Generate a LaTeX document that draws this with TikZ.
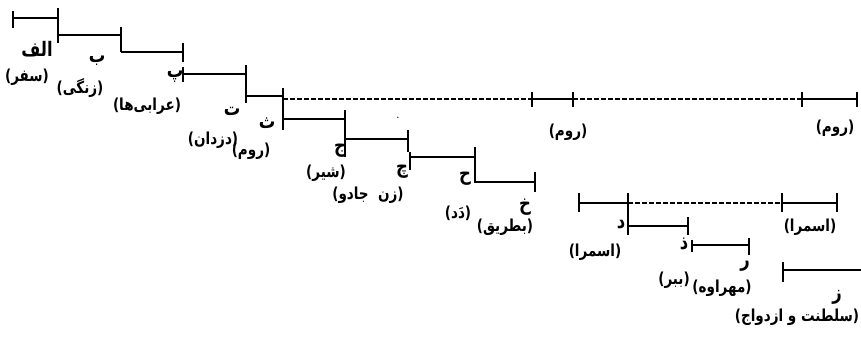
\documentclass[tikz,border=0pt]{standalone}
\usepackage{fontspec}
\TeXXeTstate=1
\newfontfamily\fa[Script=Arabic,FakeStretch=0.82]{DejaVu Sans}
\newcommand{\rtl}[1]{{\fa\bfseries\beginR #1\endR}}
\begin{document}
\begin{tikzpicture}[x=1pt,y=-1pt,
  seg/.style={line width=1.6pt},
  tk/.style={line width=1.6pt},
  dsh/.style={line width=1.3pt,dash pattern=on 4.5pt off 2.5pt},
  lbl/.style={inner sep=0pt,font=\fontsize{16.5}{18}\selectfont},
  ltr/.style={inner sep=0pt,font=\fontsize{20}{22}\selectfont}]
\useasboundingbox (0,0) rectangle (861,338);
% --- staircase ---
\coordinate (a0) at (13,18); \coordinate (a1) at (58,18);
\draw[seg] (a0) -- (a1);
\draw[tk] (13,11) -- (13,28);
\draw[tk] (58,8) -- (58,43);
\coordinate (b0) at (58,35); \coordinate (b1) at (121,35);
\draw[seg] (b0) -- (b1);
\draw[tk] (121,27) -- (121,52);
\coordinate (c0) at (121,52); \coordinate (c1) at (183,52);
\draw[seg] (c0) -- (c1);
\draw[tk] (183,43) -- (183,62);
\coordinate (d0) at (183,74); \coordinate (d1) at (246,74);
\draw[seg] (d0) -- (d1);
\draw[tk] (183,67) -- (183,82);
\draw[tk] (246,65) -- (246,103);
\coordinate (e0) at (246,96); \coordinate (e1) at (283,96);
\draw[seg] (e0) -- (e1);
\draw[tk] (283,88) -- (283,130);
% dashed to Rome
\coordinate (r0) at (532,99); \coordinate (r1) at (573,99);
\coordinate (r2) at (802,99); \coordinate (r3) at (857,99);
\draw[dsh] (283,99) -- (r0);
\draw[seg] (r0) -- (r1);
\draw[dsh] (r1) -- (r2);
\draw[seg] (r2) -- (r3);
\foreach \x in {532,573,802,857} \draw[tk] (\x,92) -- (\x,107);
% continue staircase
\coordinate (f0) at (283,119); \coordinate (f1) at (345,119);
\draw[seg] (f0) -- (f1);
\draw[tk] (345,110) -- (345,157);
\coordinate (g0) at (345,139); \coordinate (g1) at (408,139);
\draw[seg] (g0) -- (g1);
\draw[tk] (408,130) -- (408,152);
\coordinate (h0) at (410,157); \coordinate (h1) at (475,157);
\draw[seg] (h0) -- (h1);
\draw[tk] (410,152) -- (410,170);
\draw[tk] (475,147) -- (475,183);
\coordinate (i0) at (475,182); \coordinate (i1) at (535,182);
\draw[seg] (i0) -- (i1);
\draw[tk] (535,172) -- (535,192);
% --- lower right group ---
\coordinate (p0) at (579,203); \coordinate (p1) at (628,203);
\coordinate (p2) at (782,203); \coordinate (p3) at (837,203);
\draw[seg] (p0) -- (p1);
\draw[dsh] (p1) -- (p2);
\draw[seg] (p2) -- (p3);
\draw[tk] (579,193) -- (579,212);
\draw[tk] (628,193) -- (628,235);
\draw[tk] (782,193) -- (782,212);
\draw[tk] (837,193) -- (837,212);
\coordinate (q0) at (628,226); \coordinate (q1) at (688,226);
\draw[seg] (q0) -- (q1);
\draw[tk] (688,217) -- (688,235);
\coordinate (s0) at (692,245); \coordinate (s1) at (749,245);
\draw[seg] (s0) -- (s1);
\draw[tk] (692,240) -- (692,252);
\draw[tk] (749,238) -- (749,255);
\coordinate (z0) at (783,270); \coordinate (z1) at (861,270);
\draw[seg] (z0) -- (z1);
\draw[tk] (783,262) -- (783,282);
% --- labels ---
\node[ltr] (n1) at (37,49) {\rtl{الف}};
\node[lbl] (n2) at (27,77) {\rtl{(سفر)}};
\node[ltr] (n3) at (97,61) {\rtl{ب}};
\node[lbl] (n4) at (80,88) {\rtl{(زنگی)}};
\node[ltr] (n5) at (175,77) {\rtl{پ}};
\node[lbl] (n6) at (147,106) {\rtl{(عرابی‌ها)}};
\node[ltr] (n7) at (232,111) {\rtl{ت}};
\node[ltr] (n8) at (267,123) {\rtl{ث}};
\node[lbl] (n9) at (213,140) {\rtl{(دزدان)}};
\node[lbl] (n10) at (251,151) {\rtl{(روم)}};
\node[lbl] (n11) at (398,118) {.};
\node[ltr] (n12) at (340,151) {\rtl{ج}};
\node[lbl] (n13) at (326,173) {\rtl{(شیر)}};
\node[ltr] (n14) at (402,172) {\rtl{چ}};
\node[lbl] (n15) at (368,195) {\rtl{(زن\ \ جادو)}};
\node[ltr] (n16) at (465,179) {\rtl{ح}};
\node[lbl] (n17) at (458,213) {\rtl{(دَد)}};
\node[ltr] (n18) at (525,207) {\rtl{خ}};
\node[lbl] (n19) at (505,227) {\rtl{(بطریق)}};
\node[lbl] (n20) at (568,132) {\rtl{(روم)}};
\node[lbl] (n21) at (835,128) {\rtl{(روم)}};
\node[ltr] (n22) at (621,225) {\rtl{د}};
\node[lbl] (n23) at (595,252) {\rtl{(اسمرا)}};
\node[lbl] (n24) at (810,227) {\rtl{(اسمرا)}};
\node[ltr] (n25) at (684,244) {\rtl{ذ}};
\node[ltr] (n26) at (745,266) {\rtl{ر}};
\node[lbl] (n27) at (674,280) {\rtl{(ببر)}};
\node[lbl] (n28) at (722,288) {\rtl{(مهراوه)}};
\node[ltr] (n29) at (837,297) {\rtl{ز}};
\node[lbl] (n30) at (797,317) {\rtl{(سلطنت و ازدواج)}};
\end{tikzpicture}
\end{document}
